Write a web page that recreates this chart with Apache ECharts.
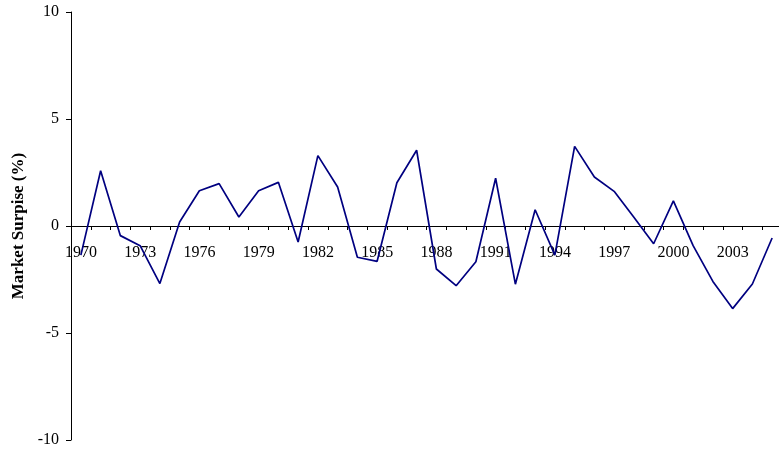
<!DOCTYPE html>
<html>
<head>
<meta charset="utf-8">
<script src="https://cdn.jsdelivr.net/npm/echarts@6/dist/echarts.min.js"></script>
<style>html,body{margin:0;padding:0;background:#fff;}#c{width:779px;height:456px;}</style>
</head>
<body>
<div id="c"></div>
<script>
const years = [];
for (let y = 1970; y <= 2005; y++) years.push(String(y));
const surprise = [-1.36, 2.58, -0.45, -0.92, -2.69, 0.19, 1.65, 1.98, 0.42, 1.65,
  2.04, -0.75, 3.29, 1.82, -1.46, -1.65, 2.02, 3.54, -2.01, -2.79,
  -1.67, 2.23, -2.72, 0.76, -1.36, 3.72, 2.29, 1.62, 0.41, -0.83,
  1.17, -0.92, -2.59, -3.86, -2.71, -0.56];
const yName = 'Market Surpise (%)';

const chart = echarts.init(document.getElementById('c'), null, {renderer: 'canvas'});
chart.setOption({
  animation: false,
  backgroundColor: '#fff',
  grid: {left: 71, right: -3, top: 12, bottom: 16, containLabel: false, outerBoundsMode: 'none'},
  xAxis: {
    type: 'category',
    data: years,
    boundaryGap: true,
    offset: -214,
    axisLine: {onZero: false, lineStyle: {color: '#000', width: 1}},
    axisTick: {show: true, interval: 0, length: 4, lineStyle: {color: '#000'}},
    axisLabel: {interval: 2, margin: 19, color: '#000', fontFamily: 'Liberation Serif', fontSize: 16},
    splitLine: {show: false}
  },
  yAxis: {
    type: 'value',
    min: -10, max: 10, interval: 5,
    name: yName,
    nameLocation: 'middle',
    nameGap: 44,
    nameTextStyle: {color: '#000', fontFamily: 'Liberation Serif', fontSize: 17, fontWeight: 'bold'},
    axisLine: {show: true, lineStyle: {color: '#000', width: 1}},
    axisTick: {show: true, length: 5, lineStyle: {color: '#000'}},
    axisLabel: {margin: 12, color: '#000', fontFamily: 'Liberation Serif', fontSize: 16},
    splitLine: {show: false}
  },
  series: [{
    type: 'line',
    data: surprise,
    symbol: 'none',
    lineStyle: {color: '#000080', width: 1.7},
    z: 5
  }]
});
</script>
</body>
</html>
